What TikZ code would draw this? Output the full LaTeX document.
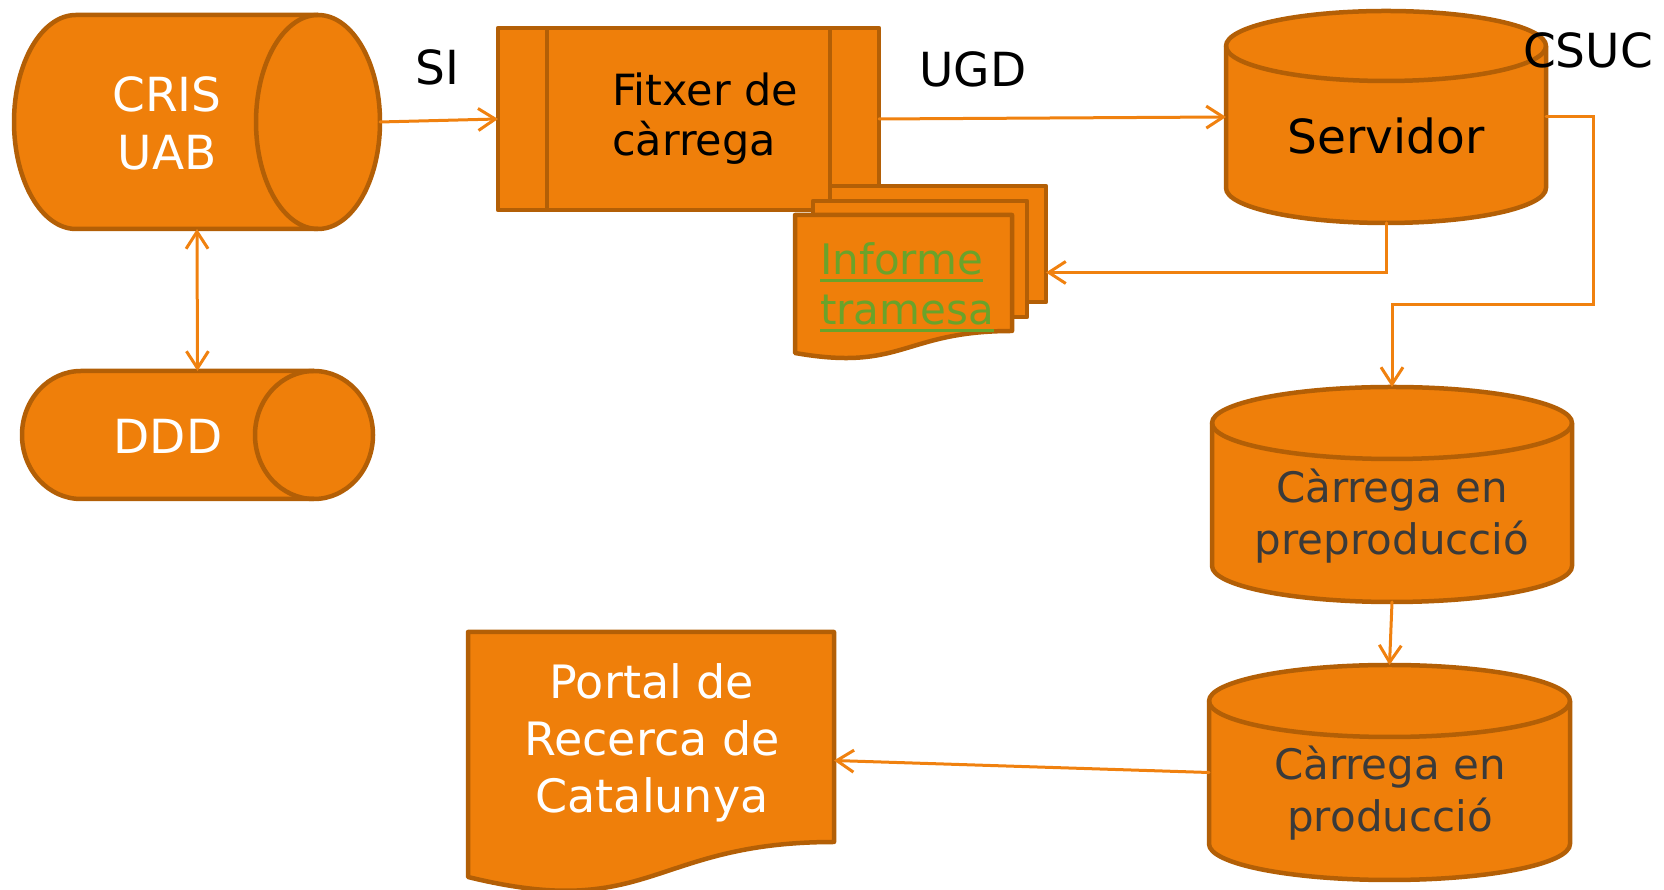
\documentclass[tikz,border=0pt]{standalone}
\usepackage{fontspec}
\setmainfont{DejaVu Sans}
\usetikzlibrary{arrows.meta}
\definecolor{fillor}{HTML}{EF7F0A}
\definecolor{bord}{HTML}{B35F06}
\definecolor{arrc}{HTML}{F0810F}
\definecolor{lnk}{HTML}{6AA32A}
\definecolor{dgray}{HTML}{3A3A3A}
\newcommand{\fz}[2]{\fontsize{#1pt}{#2pt}\selectfont}
\newcommand{\ctab}[1]{\begin{tabular}[t]{@{}c@{}}#1\end{tabular}}
\newcommand{\ltab}[1]{\begin{tabular}[t]{@{}l@{}}#1\end{tabular}}
\newcommand{\ulink}[1]{\setbox0=\hbox{#1}\rlap{\copy0}\rule[-7pt]{\wd0}{3pt}}
\newcommand{\vcyl}[5]{%
  \path[shp] ({#1-#2},#3) -- ({#1-#2},#4) arc[start angle=180,end angle=360,x radius=#2,y radius=#5] -- ({#1+#2},#3) arc[start angle=0,end angle=180,x radius=#2,y radius=#5] -- cycle;
  \draw[edgeline] ({#1-#2},#3) arc[start angle=180,end angle=360,x radius=#2,y radius=#5];
}
\newcommand{\hcyl}[5]{%
  \path[shp] ({#1+#4},{#3+#5}) -- ({#2-#4},{#3+#5}) arc[start angle=90,end angle=-90,x radius=#4,y radius=#5] -- ({#1+#4},{#3-#5}) arc[start angle=270,end angle=90,x radius=#4,y radius=#5] -- cycle;
  \draw[edgeline] ({#2-#4},{#3+#5}) arc[start angle=90,end angle=270,x radius=#4,y radius=#5];
}
\begin{document}
\begin{tikzpicture}[x=1pt,y=1pt,
  shp/.style={fill=fillor, draw=bord, line width=4.5pt, line join=round},
  edgeline/.style={draw=bord, line width=4.5pt},
  hold/.style={draw=none, fill=none, inner sep=0pt, outer sep=0pt, rectangle},
  lbl/.style={inner sep=0pt, anchor=base},
  conn/.style={draw=arrc, line width=3pt, line cap=round, -{Straight Barb[length=17pt,width=22pt]}},
  conn2/.style={draw=arrc, line width=3pt, line cap=round, {Straight Barb[length=17pt,width=22pt]}-{Straight Barb[length=17pt,width=22pt]}}]
\useasboundingbox (0,0) rectangle (1664,890);

% CRIS UAB
\hcyl{14}{380}{768}{62}{107}
\node[hold,minimum width=366pt,minimum height=214pt] (cris) at (197,768) {};
\node[lbl,text=white,font=\fz{47}{58}] (crisT) at (167,778.5) {\ctab{CRIS\\UAB}};

% DDD
\hcyl{22}{373}{455}{59}{64}
\node[hold,minimum width=351pt,minimum height=128pt] (ddd) at (197.5,455) {};
\node[lbl,text=white,font=\fz{47}{58}] (dddT) at (168,436.5) {DDD};

% SI
\node[lbl,font=\fz{47}{58}] (si) at (437,805) {SI};

% Fitxer de carrega
\path[shp] (498,680) rectangle (879,862);
\draw[edgeline] (547,680) -- (547,862) (830,680) -- (830,862);
\node[hold,minimum width=381pt,minimum height=182pt] (fitxer) at (688.5,771) {};
\node[lbl,anchor=base west,font=\fz{43}{50}] (fitxerT) at (612,784.5) {\ltab{Fitxer de\\càrrega}};

% Informe tramesa (multi document)
\path[shp] (830,588) rectangle (1046,704);
\path[shp] (813,573) rectangle (1027,689);
\path[shp] (795,675) -- (1012,675) -- (1012,559) .. controls (903,559) and (903,518) .. (795,537) -- cycle;
\node[hold,minimum width=251pt,minimum height=173pt] (inf) at (920.5,617.5) {};
\node[lbl,anchor=base west,text=lnk,font=\fz{42}{50}] (infT) at (820,615) {\ltab{\ulink{Informe}\\\ulink{tramesa}}};

% UGD
\node[lbl,font=\fz{47}{58}] (ugd) at (973,803) {UGD};

% Servidor
\vcyl{1386}{160}{844}{702}{35}
\node[hold,minimum width=320pt,minimum height=212pt] (serv) at (1386,773) {};
\node[lbl,font=\fz{47}{58}] (servT) at (1386,736.5) {Servidor};
\node[lbl,font=\fz{47}{58}] (csuc) at (1588,822) {CSUC};

% Carrega en preproduccio
\vcyl{1392}{180}{467}{324}{36}
\node[hold,minimum width=360pt,minimum height=215pt] (pre) at (1392,395.5) {};
\node[lbl,text=dgray,font=\fz{42}{52}] (preT) at (1392,387) {\ctab{Càrrega en\\preproducció}};

% Carrega en produccio
\vcyl{1389.5}{180.5}{189}{46}{36}
\node[hold,minimum width=361pt,minimum height=215pt] (prod) at (1389.5,117.5) {};
\node[lbl,text=dgray,font=\fz{42}{52}] (prodT) at (1390,110) {\ctab{Càrrega en\\producció}};

% Portal de Recerca de Catalunya
\path[shp] (468,258) -- (834,258) -- (834,48) .. controls (651,48) and (651,-32) .. (468,13) -- cycle;
\node[hold,minimum width=366pt,minimum height=257pt] (portal) at (651,129.5) {};
\node[lbl,text=white,font=\fz{46}{57}] (portalT) at (652,191) {\ctab{Portal de\\Recerca de\\Catalunya}};

% connectors
\coordinate (bend) at (1593,585);
\draw[conn] (cris.east) -- (fitxer.west);
\draw[conn2] (cris.south) -- (ddd.north);
\draw[conn] (fitxer.east) -- (serv.west);
\draw[conn] (serv.south) |- (inf.east);
\draw[conn] (serv.east) -| (bend) -| (pre.north);
\draw[conn] (pre.south) -- (prod.north);
\draw[conn] (prod.west) -- (portal.east);
\end{tikzpicture}
\end{document}
